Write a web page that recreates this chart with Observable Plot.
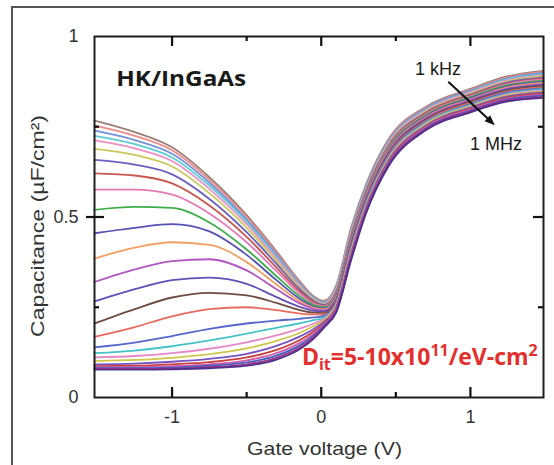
<!DOCTYPE html>
<html><head><meta charset="utf-8">
<script src="https://cdn.jsdelivr.net/npm/d3@7"></script>
<script src="https://cdn.jsdelivr.net/npm/@observablehq/plot@0.6"></script>
<style>
html,body{margin:0;padding:0;background:#fff;overflow:hidden}
#wrap{position:relative;width:554px;height:465px;overflow:hidden}
</style></head><body><div id="wrap"></div>
<script>
// Gate voltage sample points (V)
const gateV = [-1.52, -1.25, -1.0, -0.75, -0.5, -0.3, -0.15, -0.05, 0.02, 0.1, 0.2, 0.3, 0.45, 0.7, 1.0, 1.25, 1.49];

// Capacitance (uF/cm2), from 1 kHz (curve01) to 1 MHz (curve26)
const curve01 = [0.767, 0.735, 0.693, 0.610, 0.505, 0.405, 0.325, 0.280, 0.268, 0.310, 0.470, 0.590, 0.715, 0.805, 0.855, 0.890, 0.905];
const curve02 = [0.753, 0.725, 0.685, 0.603, 0.500, 0.400, 0.322, 0.278, 0.266, 0.307, 0.466, 0.587, 0.712, 0.802, 0.852, 0.887, 0.902];
const curve03 = [0.739, 0.713, 0.675, 0.595, 0.493, 0.395, 0.318, 0.276, 0.264, 0.304, 0.463, 0.584, 0.709, 0.800, 0.850, 0.884, 0.899];
const curve04 = [0.725, 0.702, 0.665, 0.587, 0.487, 0.390, 0.315, 0.274, 0.262, 0.301, 0.459, 0.580, 0.706, 0.797, 0.847, 0.882, 0.896];
const curve05 = [0.712, 0.690, 0.655, 0.578, 0.480, 0.385, 0.312, 0.272, 0.260, 0.298, 0.456, 0.577, 0.703, 0.795, 0.845, 0.879, 0.893];
const curve06 = [0.689, 0.672, 0.640, 0.566, 0.470, 0.378, 0.307, 0.270, 0.258, 0.295, 0.452, 0.574, 0.700, 0.792, 0.842, 0.876, 0.890];
const curve07 = [0.658, 0.645, 0.618, 0.550, 0.458, 0.370, 0.302, 0.267, 0.256, 0.292, 0.448, 0.571, 0.697, 0.789, 0.839, 0.873, 0.887];
const curve08 = [0.621, 0.615, 0.593, 0.532, 0.445, 0.360, 0.296, 0.264, 0.254, 0.289, 0.445, 0.568, 0.694, 0.787, 0.837, 0.870, 0.884];
const curve09 = [0.576, 0.576, 0.562, 0.510, 0.430, 0.350, 0.290, 0.260, 0.252, 0.286, 0.441, 0.564, 0.691, 0.784, 0.834, 0.868, 0.881];
const curve10 = [0.520, 0.528, 0.525, 0.485, 0.410, 0.336, 0.282, 0.256, 0.250, 0.283, 0.438, 0.561, 0.688, 0.782, 0.832, 0.865, 0.878];
const curve11 = [0.455, 0.470, 0.480, 0.460, 0.395, 0.325, 0.275, 0.252, 0.247, 0.280, 0.434, 0.558, 0.685, 0.779, 0.829, 0.862, 0.875];
const curve12 = [0.385, 0.415, 0.430, 0.423, 0.375, 0.313, 0.268, 0.248, 0.244, 0.277, 0.430, 0.555, 0.682, 0.776, 0.826, 0.859, 0.872];
const curve13 = [0.320, 0.355, 0.378, 0.383, 0.352, 0.300, 0.262, 0.245, 0.241, 0.274, 0.427, 0.552, 0.679, 0.774, 0.824, 0.856, 0.869];
const curve14 = [0.266, 0.300, 0.325, 0.332, 0.315, 0.278, 0.252, 0.240, 0.238, 0.271, 0.423, 0.548, 0.676, 0.771, 0.821, 0.854, 0.866];
const curve15 = [0.205, 0.245, 0.277, 0.290, 0.283, 0.262, 0.243, 0.235, 0.234, 0.268, 0.420, 0.545, 0.673, 0.769, 0.819, 0.851, 0.863];
const curve16 = [0.168, 0.195, 0.225, 0.245, 0.250, 0.242, 0.233, 0.230, 0.230, 0.265, 0.416, 0.542, 0.670, 0.766, 0.816, 0.848, 0.860];
const curve17 = [0.139, 0.152, 0.170, 0.190, 0.205, 0.213, 0.218, 0.222, 0.226, 0.262, 0.412, 0.539, 0.667, 0.763, 0.813, 0.845, 0.857];
const curve18 = [0.123, 0.130, 0.142, 0.158, 0.177, 0.193, 0.205, 0.214, 0.222, 0.259, 0.409, 0.536, 0.664, 0.761, 0.811, 0.842, 0.854];
const curve19 = [0.111, 0.115, 0.123, 0.135, 0.153, 0.172, 0.190, 0.205, 0.218, 0.256, 0.405, 0.532, 0.661, 0.758, 0.808, 0.840, 0.851];
const curve20 = [0.101, 0.104, 0.110, 0.120, 0.136, 0.157, 0.178, 0.198, 0.214, 0.253, 0.402, 0.529, 0.658, 0.756, 0.806, 0.837, 0.848];
const curve21 = [0.092, 0.094, 0.099, 0.107, 0.121, 0.143, 0.168, 0.190, 0.210, 0.250, 0.398, 0.526, 0.655, 0.753, 0.803, 0.834, 0.845];
const curve22 = [0.087, 0.088, 0.092, 0.098, 0.111, 0.132, 0.158, 0.183, 0.206, 0.247, 0.394, 0.523, 0.652, 0.750, 0.800, 0.831, 0.842];
const curve23 = [0.084, 0.084, 0.087, 0.092, 0.103, 0.123, 0.150, 0.177, 0.203, 0.244, 0.391, 0.520, 0.649, 0.748, 0.798, 0.828, 0.839];
const curve24 = [0.081, 0.081, 0.083, 0.088, 0.097, 0.116, 0.143, 0.172, 0.200, 0.241, 0.387, 0.516, 0.646, 0.745, 0.795, 0.826, 0.836];
const curve25 = [0.079, 0.079, 0.080, 0.084, 0.092, 0.110, 0.137, 0.167, 0.197, 0.238, 0.384, 0.513, 0.643, 0.743, 0.793, 0.823, 0.833];
const curve26 = [0.077, 0.077, 0.078, 0.081, 0.088, 0.105, 0.132, 0.163, 0.194, 0.235, 0.380, 0.510, 0.640, 0.740, 0.790, 0.820, 0.830];

const curveColors = ["#9c7f76", "#ee8a8a", "#6f93dd", "#5ccbd6", "#ee8fc6", "#c9c95a", "#6b5fc0", "#c8574f", "#e879b8", "#3fae4a",
  "#5552b5", "#f2a063", "#b457c4", "#6350b5", "#6e4d42", "#e86a5e", "#5666cc", "#45c3c6", "#e58ac6", "#cfc84a",
  "#7653c0", "#c73f3f", "#d35aa6", "#3f5fc4", "#a3307f", "#4f2f8f"];

const xMajorTicks = [-1, 0, 1];
const xMinorTicks = [-0.5, 0.5];
const yLabelTicks = [0, 0.5, 1];
const yMajorTicks = [0.5];
const yMinorTicks = [0.25, 0.75];

const curves = [curve01, curve02, curve03, curve04, curve05, curve06, curve07, curve08, curve09, curve10, curve11, curve12, curve13,
  curve14, curve15, curve16, curve17, curve18, curve19, curve20, curve21, curve22, curve23, curve24, curve25, curve26];

const rows = [];
curves.forEach((c, k) => c.forEach((v, j) => rows.push({V: gateV[j], C: v, k, color: curveColors[k]})));

const W = 554, H = 465, mL = 94, mR = 11, mT = 36, mB = 68;
const xDom = [-1.52, 1.49], yDom = [0, 1];
const fw = W - mL - mR, fh = H - mT - mB;
// tick lengths in pixels, converted to data units for the rule marks
const majX = 10 * (yDom[1] - yDom[0]) / fh, minX = 5 * (yDom[1] - yDom[0]) / fh;
const majY = 10 * (xDom[1] - xDom[0]) / fw, minY = 5 * (xDom[1] - xDom[0]) / fw, outY = 8 * (xDom[1] - xDom[0]) / fw;
const fmt = d => d < 0 ? "-" + Math.abs(d) : String(d);
const tick = {stroke: "#111", strokeWidth: 2.2};

const chart = Plot.plot({
  width: W, height: H,
  marginLeft: mL, marginRight: mR, marginTop: mT, marginBottom: mB,
  style: {fontFamily: "'Liberation Sans', Arial, sans-serif", fontSize: "18px", color: "#333", background: "transparent"},
  x: {domain: xDom},
  y: {domain: yDom},
  color: {type: "identity"},
  marks: [
    Plot.line(rows, {x: "V", y: "C", z: "k", stroke: "color", strokeWidth: 1.8, curve: "monotone-x"}),
    Plot.frame({stroke: "#1e1e1e", strokeWidth: 2}),
    Plot.ruleX(xMajorTicks, {x: d => d, y1: yDom[0], y2: yDom[0] + majX, ...tick}),
    Plot.ruleX(xMinorTicks, {x: d => d, y1: yDom[0], y2: yDom[0] + minX, ...tick}),
    Plot.ruleX(xMajorTicks, {x: d => d, y1: yDom[1] - majX, y2: yDom[1], ...tick}),
    Plot.ruleX(xMinorTicks, {x: d => d, y1: yDom[1] - minX, y2: yDom[1], ...tick}),
    Plot.ruleY(yMajorTicks, {y: d => d, x1: xDom[0] - outY, x2: xDom[0] + majY, ...tick}),
    Plot.ruleY(yMinorTicks, {y: d => d, x1: xDom[0], x2: xDom[0] + minY, ...tick}),
    Plot.ruleY(yMajorTicks, {y: d => d, x1: xDom[1] - majY, x2: xDom[1], ...tick}),
    Plot.ruleY(yMinorTicks, {y: d => d, x1: xDom[1] - minY, x2: xDom[1], ...tick}),
    Plot.axisX({anchor: "bottom", ticks: xMajorTicks, tickSize: 0, tickPadding: 13, tickFormat: fmt, label: null}),
    Plot.axisY({anchor: "left", ticks: yLabelTicks, tickSize: 0, tickPadding: 16, tickFormat: fmt, label: null})
  ]
});

const wrap = document.getElementById("wrap");
wrap.appendChild(chart);

const sx = chart.scale("x"), sy = chart.scale("y");
const svg = d3.select(chart);
const sans = "'Liberation Sans', Arial, sans-serif";
const bold = "'Open Sans', sans-serif";

// keep the tick groups above everything else in the plot
chart.querySelectorAll("g[aria-label='rule']").forEach(g => chart.appendChild(g));

// outer figure border (left and top edges visible)
svg.append("path").attr("d", "M12,465V7H554").attr("fill", "none").attr("stroke", "#555").attr("stroke-width", 2);

// axis titles
svg.append("text")
  .attr("transform", `translate(37,226) rotate(-90)`)
  .attr("text-anchor", "middle").attr("dominant-baseline", "central")
  .attr("font-family", sans).attr("font-size", 19).attr("fill", "#333")
  .attr("textLength", 222).attr("lengthAdjust", "spacingAndGlyphs")
  .text("Capacitance (µF/cm²)");
svg.append("text")
  .attr("x", 324.5).attr("y", 455)
  .attr("text-anchor", "middle")
  .attr("font-family", sans).attr("font-size", 19).attr("fill", "#333")
  .attr("textLength", 155).attr("lengthAdjust", "spacingAndGlyphs")
  .text("Gate voltage (V)");

// annotations
svg.append("text")
  .attr("x", sx.apply(-1.371)).attr("y", sy.apply(0.862)).attr("text-anchor", "start")
  .attr("font-family", bold).attr("font-weight", "bold").attr("font-size", 21).attr("fill", "#1a1a1a")
  .attr("textLength", 130).attr("lengthAdjust", "spacingAndGlyphs")
  .text("HK/InGaAs");
svg.append("text")
  .attr("x", sx.apply(0.786)).attr("y", sy.apply(0.892)).attr("text-anchor", "middle")
  .attr("font-family", sans).attr("font-size", 18).attr("fill", "#1a1a1a")
  .text("1 kHz");
svg.append("text")
  .attr("x", sx.apply(1.175)).attr("y", sy.apply(0.684)).attr("text-anchor", "middle")
  .attr("font-family", sans).attr("font-size", 18).attr("fill", "#1a1a1a")
  .text("1 MHz");

// arrow 1 kHz -> 1 MHz
const ax1 = sx.apply(0.855), ay1 = sy.apply(0.873), ax2 = sx.apply(1.167), ay2 = sy.apply(0.753);
const ang = Math.atan2(ay2 - ay1, ax2 - ax1);
svg.append("line").attr("x1", ax1).attr("y1", ay1)
  .attr("x2", ax2 - 6 * Math.cos(ang)).attr("y2", ay2 - 6 * Math.sin(ang))
  .attr("stroke", "#111").attr("stroke-width", 2);
const hl = 11, hw = 0.38;
svg.append("path")
  .attr("d", `M${ax2},${ay2} L${ax2 - hl * Math.cos(ang - hw)},${ay2 - hl * Math.sin(ang - hw)} L${ax2 - hl * Math.cos(ang + hw)},${ay2 - hl * Math.sin(ang + hw)} Z`)
  .attr("fill", "#111");

// D_it annotation
const dit = svg.append("text")
  .attr("x", sx.apply(-0.126)).attr("y", sy.apply(0.09)).attr("text-anchor", "start")
  .attr("font-family", bold).attr("font-weight", "bold").attr("font-size", 23).attr("fill", "#e3302d");
dit.append("tspan").text("D");
dit.append("tspan").attr("font-size", 16).attr("dy", 5).text("it");
dit.append("tspan").attr("dy", -5).text("=5-10x10");
dit.append("tspan").attr("font-size", 16).attr("dy", -9).text("11");
dit.append("tspan").attr("dy", 9).text("/eV-cm");
dit.append("tspan").attr("font-size", 16).attr("dy", -9).text("2");
</script>
</body></html>
